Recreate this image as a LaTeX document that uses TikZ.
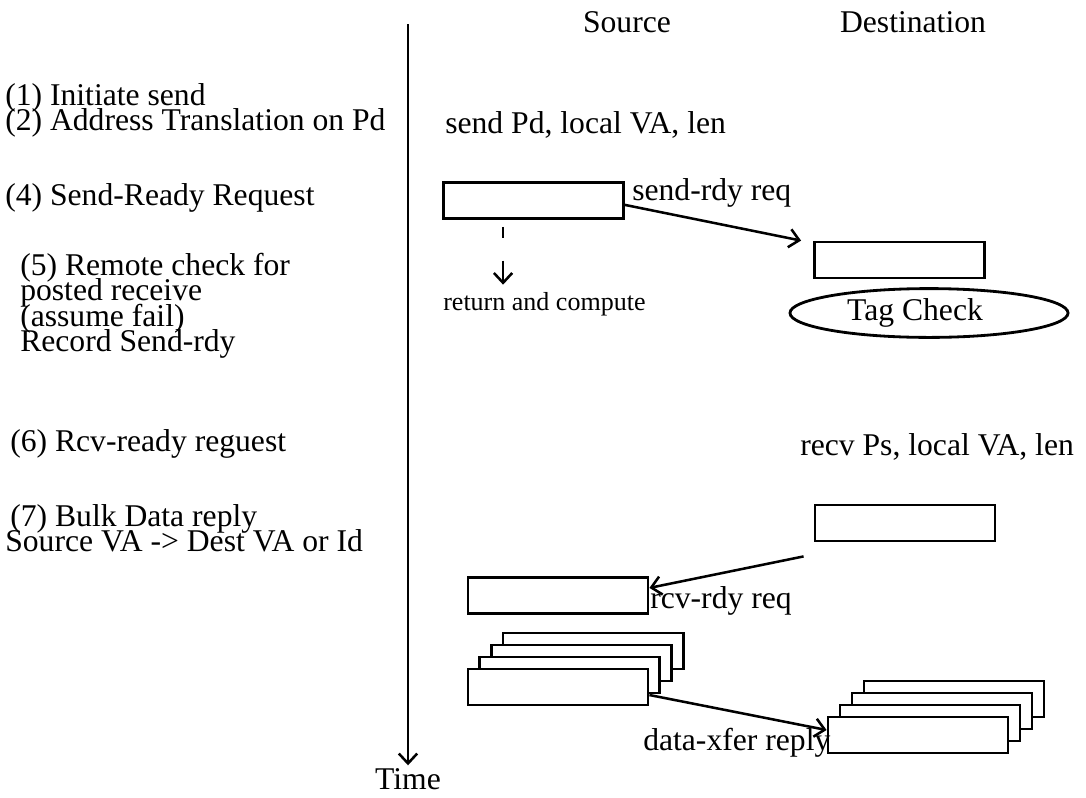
\documentclass[tikz,border=0pt]{standalone}
\usepackage{fontspec}
\setmainfont{Liberation Serif}
\usetikzlibrary{shapes.geometric, calc, positioning, arrows.meta}

\begin{document}
\begin{tikzpicture}[
    x=0.025cm, y=-0.025cm,
    every node/.style={font=\fontsize{22.5}{27}\selectfont},
    stepNote/.style={anchor=base west, inner sep=0pt},
    smallNote/.style={anchor=base west, inner sep=0pt, font=\fontsize{18.5}{22}\selectfont},
    pktBox/.style={draw, fill=white, line width=2pt, minimum width=4.5cm, minimum height=0.9cm, inner sep=0pt},
    msgArrow/.style={-{Straight Barb[length=7pt,width=13pt]}, line width=1.8pt}
  ]
  \useasboundingbox (0,0) rectangle (1086,797);

  % time axis
  \coordinate (axisTop) at (408,24);
  \node[inner sep=2pt] (timeLbl) at (408,779) {Time};
  \draw[msgArrow] (axisTop) -- (timeLbl.north);

  \node (srcHead) at (627,22) {Source};
  \node (dstHead) at (913,22) {Destination};

  % steps on the left
  \node[stepNote] (stepA) at (5,105) {(1) Initiate send};
  \node[stepNote] (stepB) at (5,130) {(2) Address Translation on Pd};
  \node[stepNote] (stepD) at (5,205) {(4) Send-Ready Request};
  \node[stepNote] (stepE) at (20,275) {(5) Remote check for};
  \node[stepNote] (stepE2) at (20,300) {posted receive};
  \node[stepNote] (stepE3) at (20,326) {(assume fail)};
  \node[stepNote] (stepE4) at (20,351) {Record Send-rdy};
  \node[stepNote] (stepF) at (10,451) {(6) Rcv-ready reguest};
  \node[stepNote] (stepG) at (10,526) {(7) Bulk Data reply};
  \node[stepNote] (stepG2) at (5,551) {Source VA -> Dest VA or Id};

  % send side
  \node[stepNote] (sendCall) at (445,133) {send Pd, local VA, len};
  \node[pktBox] (sendReq) at (533.5,200.5) {};
  \node[stepNote] (sendLbl) at (632,200) {send-rdy req};
  \node[smallNote] (retNote) at (443,310) {return and compute};

  \node[pktBox, minimum width=4.25cm] (tagBox) at (899.5,260) {};
  \node[draw, ellipse, line width=2pt, minimum width=6.95cm, minimum height=1.22cm, inner sep=0pt] (tagCheck) at (929,313) {Tag Check\hspace*{0.7cm}};

  \draw[msgArrow] ([yshift=-0.11cm]sendReq.east) -- ([xshift=-0.3cm]tagBox.north west);
  \draw[msgArrow, dash pattern=on 8pt off 16pt on 40pt] ($(sendReq.south west)+(61,7)$) coordinate (retFrom) -- ($(retFrom |- retNote.north)+(0,-7)$);

  % receive side
  \node[stepNote] (recvCall) at (800,455) {recv Ps, local VA, len};
  \node[pktBox] (rcvBox) at (905,523) {};
  \node[pktBox] (rcvReq) at (558,595.5) {};
  \node[stepNote] (rcvLbl) at (650,608) {rcv-rdy req};
  \draw[msgArrow] ($(rcvBox.south west)+(-10,14)$) -- ([yshift=0.19cm]rcvReq.east);

  % bulk data packets
  \foreach \k in {3,2,1}{
    \node[pktBox] (srcData\k) at ({558+11.7*\k},{687-12*\k}) {};
    \node[pktBox] (dstData\k) at ({918+12*\k},{735-12*\k}) {};
  }
  \node[pktBox] (srcData) at (558,687) {};
  \node[pktBox] (dstData) at (918,735) {};
  \node[stepNote] (dataLbl) at (643,750) {data-xfer reply};
  \draw[msgArrow] ([yshift=-0.2cm]srcData.east) -- ([yshift=0.125cm]dstData.west);
\end{tikzpicture}
\end{document}
